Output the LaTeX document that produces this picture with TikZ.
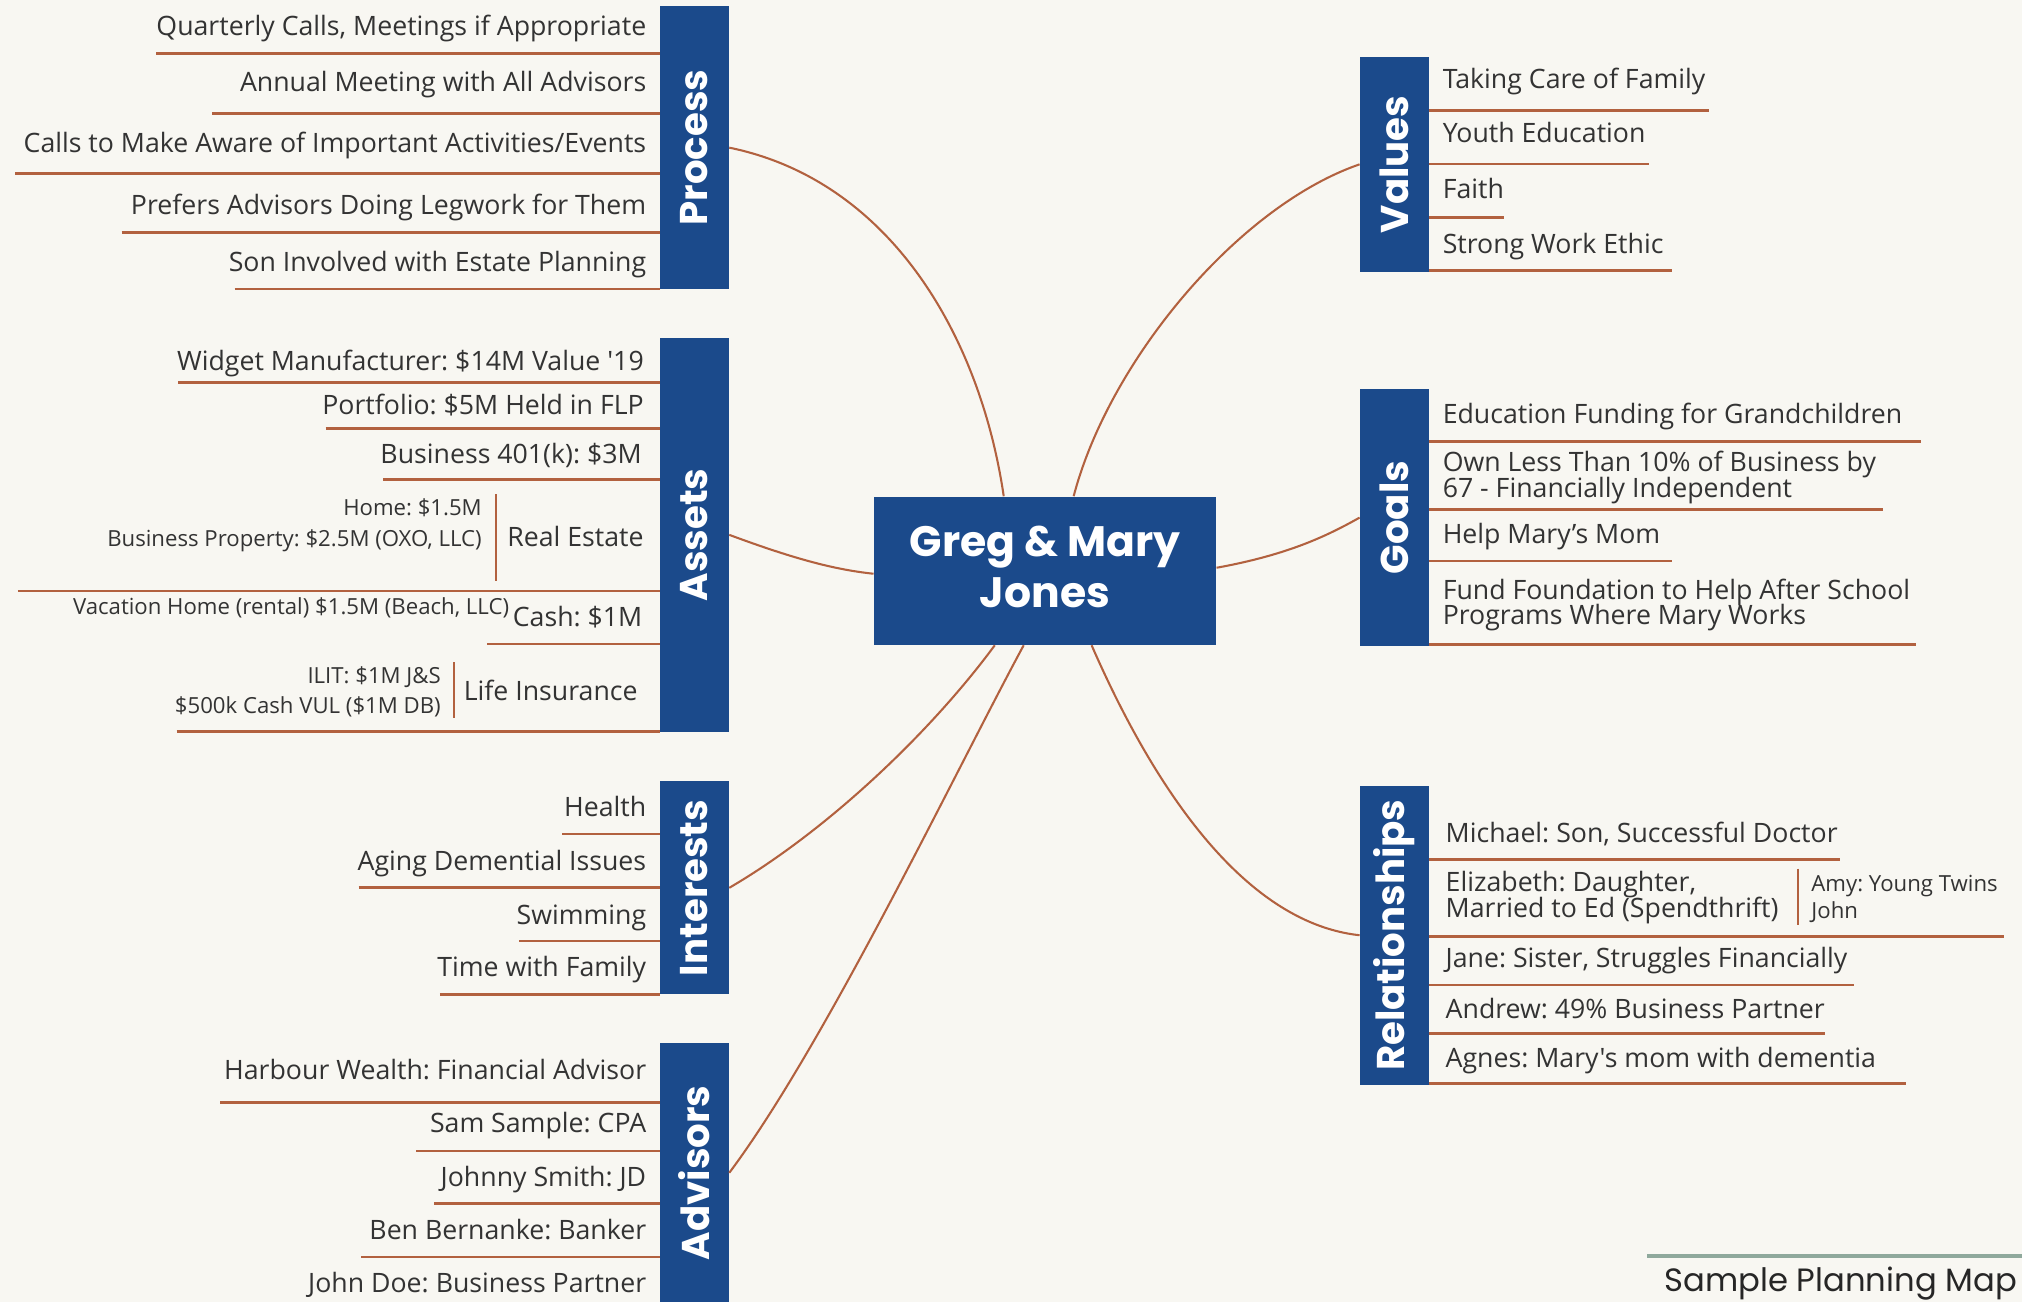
\documentclass[tikz,border=0pt]{standalone}
\usepackage{fontspec}
\usetikzlibrary{calc}
\newfontfamily\itemfont{Open Sans}[Ligatures=TeXOff]
\newfontfamily\headfont{Poppins}
\definecolor{bgc}{HTML}{F8F7F2}
\definecolor{bluec}{HTML}{1B4A8B}
\definecolor{linec}{HTML}{B2613F}
\definecolor{txtc}{HTML}{333333}
\definecolor{footc}{HTML}{8FA99C}
\frenchspacing
\begin{document}
\begin{tikzpicture}[x=0.5pt,y=-0.5pt,
  branch/.style={fill=bluec, text=white, rotate=90, inner sep=0pt, minimum height=26.6pt,
    font=\headfont\bfseries\fontsize{15}{18}\selectfont},
  itemL/.style={anchor=base east, inner sep=0pt, text=txtc, font=\itemfont\fontsize{10.35}{12}\selectfont},
  itemR/.style={anchor=base west, inner sep=0pt, text=txtc, font=\itemfont\fontsize{10.35}{12}\selectfont},
  subL/.style={anchor=base east, inner sep=0pt, text=txtc, font=\itemfont\fontsize{8.6}{10}\selectfont},
  subR/.style={anchor=base west, inner sep=0pt, text=txtc, font=\itemfont\fontsize{8.6}{10}\selectfont},
  uline/.style={draw=linec, line width=1pt},
  sepline/.style={draw=linec, line width=0.8pt},
  conn/.style={draw=linec, line width=0.8pt},
]
\path[fill=bgc] (0,0) rectangle (1568,1010);
\useasboundingbox (0,0) rectangle (1568,1010);

% centre
\node[fill=bluec, text=white, inner sep=0pt, minimum width=132.6pt, minimum height=57.4pt,
  align=center, font=\headfont\bfseries\fontsize{16.5}{19.5}\selectfont] (gm) at (810.4,442.6) {};
\node[text=white, inner sep=0pt, align=center, font=\headfont\bfseries\fontsize{16.5}{19.5}\selectfont]
  (gmtext) at (810.4,439.6) {Greg \& Mary\\Jones};

% branch boxes
\node[branch, minimum width=109.5pt] (process) at (538.5,114.5) {Process};
\node[branch, minimum width=152.75pt] (assets) at (538.5,414.75) {Assets};
\node[branch, minimum width=82.5pt] (interests) at (538.5,688.5) {Interests};
\node[branch, minimum width=100.5pt] (advisors) at (538.5,909.5) {Advisors};
\node[branch, minimum width=83.25pt] (values) at (1081.3,127.45) {Values};
\node[branch, minimum width=99.4pt] (goals) at (1081.3,401.4) {Goals};
\node[branch, minimum width=115.75pt] (relations) at (1081.3,725.25) {Relationships};

% connectors
\draw[conn] (process.south) .. controls (690,140) and (760,260) .. (gm.119.5);
\draw[conn] (assets.south) .. controls (620,435) and (650,442) .. (gm.181);
\draw[conn] (interests.south) .. controls (640,645) and (720,570) .. (gm.236.2);
\draw[conn] (advisors.south) .. controls (640,810) and (740,600) .. (gm.254.9);
\draw[conn] (gm.69.5) .. controls (860,280) and (960,160) .. (values.north);
\draw[conn] (gm.1.1) .. controls (1000,430) and (1030,415) .. (goals.north);
\draw[conn] (gm.302.1) .. controls (890,600) and (960,715) .. (relations.north);

% Process items
\node[itemL] (p1) at (501.5,27.5) {Quarterly Calls, Meetings if Appropriate};
\node[itemL] (p2) at (501.5,71) {Annual Meeting with All Advisors};
\node[itemL] (p3) at (501.5,118) {Calls to Make Aware of Important Activities/Events};
\node[itemL] (p4) at (501.5,166.7) {Prefers Advisors Doing Legwork for Them};
\node[itemL] (p5) at (501.5,210.7) {Son Involved with Estate Planning};
\draw[uline] (121,41.3) -- (512,41.3);
\draw[uline] (164.7,88) -- (512,88);
\draw[uline] (12,134.7) -- (512,134.7);
\draw[uline] (94.4,180.2) -- (512,180.2);
\draw[uline] (182,224) -- (512,224);

% Assets items
\node[itemL] (a1) at (499.6,287.4) {Widget Manufacturer: \$14M Value '19};
\node[itemL] (a2) at (499.6,321.8) {Portfolio: \$5M Held in FLP};
\node[itemL] (a3) at (498,359.3) {Business 401(k): \$3M};
\node[itemL] (a4) at (499.5,423.9) {Real Estate};
\node[subL] (a4a) at (374,399.4) {Home: \$1.5M};
\node[subL] (a4b) at (374,423.9) {Business Property: \$2.5M (OXO, LLC)};
\node[subL] (a4c) at (395.2,476.2) {Vacation Home (rental) \$1.5M (Beach, LLC)};
\draw[sepline] (384.3,383.4) -- (384.3,450.3);
\node[itemL] (a5) at (498.5,486) {Cash: \$1M};
\node[itemL] (a6) at (494.8,542.9) {Life Insurance};
\node[subL] (a6a) at (342.2,529.9) {ILIT: \$1M J\&S};
\node[subL] (a6b) at (342.2,553.2) {\$500k Cash VUL (\$1M DB)};
\draw[sepline] (352,513.4) -- (352,557.1);
\draw[uline] (138.3,296.5) -- (512,296.5);
\draw[uline] (252.5,332.4) -- (512,332.4);
\draw[uline] (297.2,372) -- (512,372);
\draw[uline] (13.9,458.3) -- (512,458.3);
\draw[uline] (377.7,499.4) -- (512,499.4);
\draw[uline] (136.9,567.4) -- (512,567.4);

% Interests items
\node[itemL] (i1) at (501.5,633.5) {Health};
\node[itemL] (i2) at (501.5,674.9) {Aging Demential Issues};
\node[itemL] (i3) at (501.5,716.6) {Swimming};
\node[itemL] (i4) at (501.5,757.4) {Time with Family};
\draw[uline] (436,646.7) -- (512,646.7);
\draw[uline] (278.1,688.3) -- (512,688.3);
\draw[uline] (402.6,729.7) -- (512,729.7);
\draw[uline] (341.1,771.1) -- (512,771.1);

% Advisors items
\node[itemL] (v1) at (501.5,837.5) {Harbour Wealth: Financial Advisor};
\node[itemL] (v2) at (501.5,878.6) {Sam Sample: CPA};
\node[itemL] (v3) at (501.5,920) {Johnny Smith: JD};
\node[itemL] (v4) at (501.5,960.9) {Ben Bernanke: Banker};
\node[itemL] (v5) at (501.5,1002.3) {John Doe: Business Partner};
\draw[uline] (170.9,854.9) -- (512,854.9);
\draw[uline] (322.8,892.4) -- (512,892.4);
\draw[uline] (336.7,933.2) -- (512,933.2);
\draw[uline] (280,974.6) -- (512,974.6);

% Values items
\node[itemR] (r1) at (1118.4,68.4) {Taking Care of Family};
\node[itemR] (r2) at (1118.4,110.7) {Youth Education};
\node[itemR] (r3) at (1118.4,153.7) {Faith};
\node[itemR] (r4) at (1118.4,196.6) {Strong Work Ethic};
\draw[uline] (1108,85.9) -- (1325.4,85.9);
\draw[uline] (1108,127.3) -- (1278.6,127.3);
\draw[uline] (1108,168.7) -- (1166.6,168.7);
\draw[uline] (1108,209.8) -- (1296.2,209.8);

% Goals items
\node[itemR] (g1) at (1118.4,328.5) {Education Funding for Grandchildren};
\node[itemR] (g2a) at (1118.4,365.9) {Own Less Than 10\% of Business by};
\node[itemR] (g2b) at (1118.4,385.8) {67 - Financially Independent};
\node[itemR] (g3) at (1118.4,421.1) {Help Mary’s Mom};
\node[itemR] (g4a) at (1118.4,464.6) {Fund Foundation to Help After School};
\node[itemR] (g4b) at (1118.4,484.2) {Programs Where Mary Works};
\draw[uline] (1108,342.2) -- (1490,342.2);
\draw[uline] (1108,395.3) -- (1460,395.3);
\draw[uline] (1108,434.9) -- (1296.2,434.9);
\draw[uline] (1108,499.6) -- (1485.6,499.6);

% Relationships items
\node[itemR] (s1) at (1120.7,653) {Michael: Son, Successful Doctor};
\node[itemR] (s2a) at (1120.7,691.5) {Elizabeth: Daughter,};
\node[itemR] (s2b) at (1120.7,711.8) {Married to Ed (Spendthrift)};
\node[subR] (s2c) at (1404.3,691.5) {Amy: Young Twins};
\node[subR] (s2d) at (1404.3,712.5) {John};
\draw[sepline] (1394.3,673.6) -- (1394.3,717.6);
\node[itemR] (s3) at (1120.7,750.5) {Jane: Sister, Struggles Financially};
\node[itemR] (s4) at (1120.7,789.5) {Andrew: 49\% Business Partner};
\node[itemR] (s5) at (1120.7,827.8) {Agnes: Mary's mom with dementia};
\draw[uline] (1108,666.5) -- (1426.5,666.5);
\draw[uline] (1108,726.3) -- (1553.8,726.3);
\draw[uline] (1108,763.7) -- (1437.4,763.7);
\draw[uline] (1108,801.4) -- (1415.2,801.4);
\draw[uline] (1108,840.2) -- (1478.4,840.2);

% footer
\draw[draw=footc, line width=1.6pt] (1277.3,974.1) -- (1568,974.1);
\node[anchor=base west, inner sep=0pt, text=black!85, font=\headfont\fontsize{12.5}{14}\selectfont] (title) at (1290.5,1001.8) {Sample Planning Map};
\end{tikzpicture}
\end{document}
